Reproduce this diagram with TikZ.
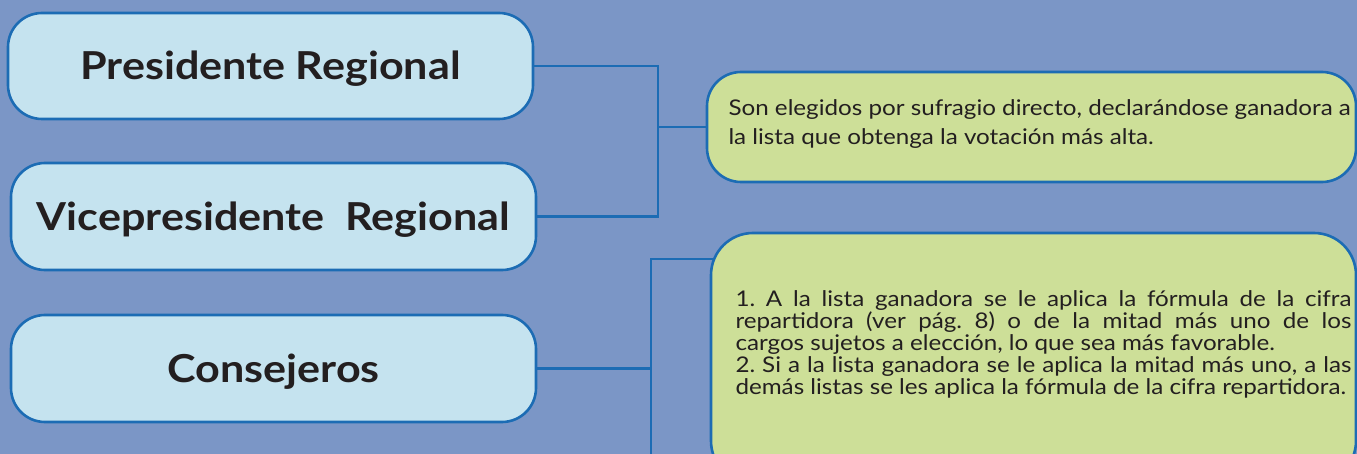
\documentclass[tikz,border=0pt]{standalone}
\usepackage{fontspec}
\setmainfont{Lato}[FakeStretch=1.12]
\definecolor{bgblue}{RGB}{123,150,198}
\definecolor{boxblue}{RGB}{197,227,239}
\definecolor{edgeblue}{RGB}{28,108,180}
\definecolor{boxgreen}{RGB}{205,223,152}
\definecolor{inkc}{RGB}{35,31,32}
\pgfdeclarelayer{bglayer}
\pgfdeclarelayer{lines}
\pgfsetlayers{bglayer,lines,main}
\tikzset{
  rolebox/.style={draw=edgeblue, line width=2.6pt, fill=boxblue, rounded corners=34pt,
    minimum width=525pt, inner sep=0pt, text=inkc, text height=28pt, text depth=0pt,
    font=\fontsize{38.5}{44}\selectfont\bfseries},
  notebox/.style={draw=edgeblue, line width=2.6pt, fill=boxgreen, text=inkc, inner sep=0pt},
  link/.style={draw=edgeblue, line width=2.6pt}
}
\begin{document}
\begin{tikzpicture}[x=1pt,y=-1pt]
\useasboundingbox (0,0) rectangle (1357,454);
\clip (0,0) rectangle (1357,454);
\begin{pgfonlayer}{bglayer}
\fill[bgblue] (0,0) rectangle (1357,454);
\end{pgfonlayer}
\node[rolebox, minimum height=106pt] (pres) at (270.5,66) {Presidente Regional};
\node[rolebox, minimum height=107pt] (vice) at (273.5,216.5) {Vicepresidente\ \ Regional};
\node[rolebox, minimum height=107pt] (cons) at (273.5,368.5) {Consejeros};
\node[notebox, rounded corners=34pt, minimum width=649pt, minimum height=110pt] (note1) at (1031.5,127)
  {\hspace*{20pt}\parbox[c]{626pt}{\fontsize{21.6}{29.5}\selectfont\frenchspacing\raggedright
  Son elegidos por sufragio directo, declarándose ganadora a\\la lista que obtenga la votación más alta.\par\vspace*{6pt}}};
\node[notebox, rounded corners=42pt, minimum width=645pt, minimum height=250pt] (note2) at (1033.5,358)
  {\hspace*{20pt}\parbox[c]{616pt}{\fontsize{21.6}{22}\selectfont\frenchspacing\parindent=0pt
  1. A la lista ganadora se le aplica la fórmula de la cifra\linebreak repartidora (ver pág. 8) o de la mitad más uno de los\linebreak cargos sujetos a elección, lo que sea más favorable.\par
  2. Si a la lista ganadora se le aplica la mitad más uno, a las\linebreak demás listas se les aplica la fórmula de la cifra repartidora.\par\vspace*{28pt}}};
\coordinate (ja) at (658,0);
\coordinate (jb) at (651,259);
\coordinate (jend) at (651,460);
\begin{pgfonlayer}{lines}
\draw[link] (pres.east) -- (pres.east -| ja) -- (vice.east -| ja) -- (vice.east);
\draw[link] (note1.west -| ja) -- (note1.west);
\draw[link] (jend) -- (jb) -- (jb -| note2.center);
\draw[link] (cons.east) -- (cons.east -| jb);
\end{pgfonlayer}
\end{tikzpicture}
\end{document}
